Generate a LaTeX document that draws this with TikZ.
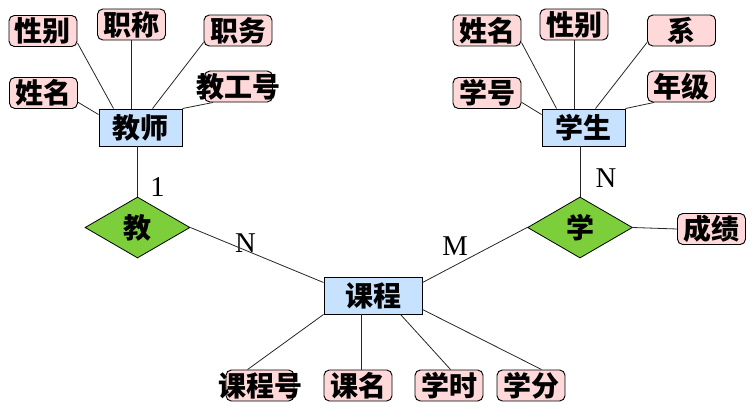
\documentclass[tikz,border=0pt]{standalone}
\usepackage{fontspec}
\setmainfont{Liberation Serif}
\newfontfamily\cjk{Noto Sans CJK SC}
\usepackage{tikz}
\usetikzlibrary{shapes.geometric, calc}
\usepackage{xcolor}
\definecolor{entfill}{HTML}{C6E2FF}
\definecolor{attrfill}{HTML}{FFD9D9}
\definecolor{relfill}{HTML}{7CCF3A}

\begin{document}
\begin{tikzpicture}[x=0.75pt, y=-0.75pt,
  entity/.style={draw, fill=entfill, line width=0.7pt, minimum width=62.25pt,
    minimum height=27.75pt, inner sep=0pt, font=\cjk\bfseries\fontsize{21pt}{21pt}\selectfont},
  attr/.style={draw, fill=attrfill, rounded corners=4pt, line width=0.7pt, minimum width=51pt,
    minimum height=23.25pt, inner sep=0pt, font=\cjk\bfseries\fontsize{21pt}{21pt}\selectfont},
  rel/.style={diamond, draw, fill=relfill, line width=0.6pt, minimum width=78.75pt,
    minimum height=45.75pt, inner sep=0pt, font=\cjk\bfseries\fontsize{21pt}{21pt}\selectfont},
  card/.style={inner sep=0pt, font=\fontsize{21.5pt}{21.5pt}\selectfont},
  link/.style={line width=0.6pt, black!85}
]
  \useasboundingbox (0,0) rectangle (754,418);

  \node[entity] (js) at (140.5, 127.5) {教师};
  \node[entity] (xs) at (583.5, 127.5) {学生};
  \node[entity, minimum width=73.5pt] (kc) at (373, 295.5) {课程};

  \node[rel] (jiao) at (137.5, 227.5) {教};
  \node[rel] (xue) at (580, 227.5) {学};

  \node[attr] (t_xb) at (43, 31) {性别};
  \node[attr] (t_zc) at (131.5, 24.5) {职称};
  \node[attr] (t_zw) at (238, 30.5) {职务};
  \node[attr] (t_xm) at (43.5, 93) {姓名};
  \node[attr] (t_gh) at (238.5, 86.5) {\makebox[0pt]{教工号}};

  \node[attr] (s_xm) at (487, 30.5) {姓名};
  \node[attr] (s_xb) at (574, 24.5) {性别};
  \node[attr] (s_x) at (681.5, 30.5) {系};
  \node[attr] (s_xh) at (487, 93) {学号};
  \node[attr] (s_nj) at (681.5, 86.5) {年级};

  \node[attr] (cj) at (711.5, 229) {成绩};

  \node[attr] (c_kh) at (260, 385.5) {\makebox[0pt]{课程号}};
  \node[attr] (c_km) at (358, 385.5) {课名};
  \node[attr] (c_xs) at (449, 385.5) {学时};
  \node[attr] (c_xf) at (531, 385.5) {学分};

  \node[card] (m_1) at (157.5, 187) {1};
  \node[card] (m_n1) at (245.5, 243) {N};
  \node[card] (m_m) at (455, 246) {M};
  \node[card] (m_n2) at (606, 178) {N};

  \draw[link] ($(t_xb.south east)+(0,-4)$) -- ($(js.north west)+(15,0)$);
  \draw[link] (t_zc.south) -- (t_zc.south |- js.north);
  \draw[link] ($(t_zw.south west)+(0,-4)$) -- ($(js.north west)+(54,0)$);
  \draw[link] (t_xm.-15) -- ($(js.north west)+(0,6)$);
  \draw[link] ($(t_gh.south west)+(9,0)$) -- (js.north east);

  \draw[link] ($(s_xm.south east)+(0,-4)$) -- ($(xs.north west)+(15,0)$);
  \draw[link] (s_xb.south) -- (s_xb.south |- xs.north);
  \draw[link] ($(s_x.south west)+(0,-4)$) -- ($(xs.north west)+(54,0)$);
  \draw[link] (s_xh.-15) -- ($(xs.north west)+(0,6)$);
  \draw[link] ($(s_nj.south west)+(7,0)$) -- (xs.north east);

  \draw[link] (jiao.north) -- (jiao.north |- js.south);
  \draw[link] (xue.north) -- (xue.north |- xs.south);
  \draw[link] (jiao.east) -- ($(kc.north west)+(0,6)$);
  \draw[link] (xue.west) -- ($(kc.north east)+(0,6)$);
  \draw[link] (xue.east) -- (cj.west);

  \draw[link] (kc.south west) -- ($(c_kh.north west)+(22,0)$);
  \draw[link] ($(kc.south west)+(38,0)$) coordinate (km) -- (km |- c_km.north);
  \draw[link] ($(kc.south west)+(77,0)$) -- ($(c_xs.north west)+(36,0)$);
  \draw[link] ($(kc.south east)+(0,-5)$) -- ($(c_xf.north west)+(45,0)$);
\end{tikzpicture}
\end{document}
